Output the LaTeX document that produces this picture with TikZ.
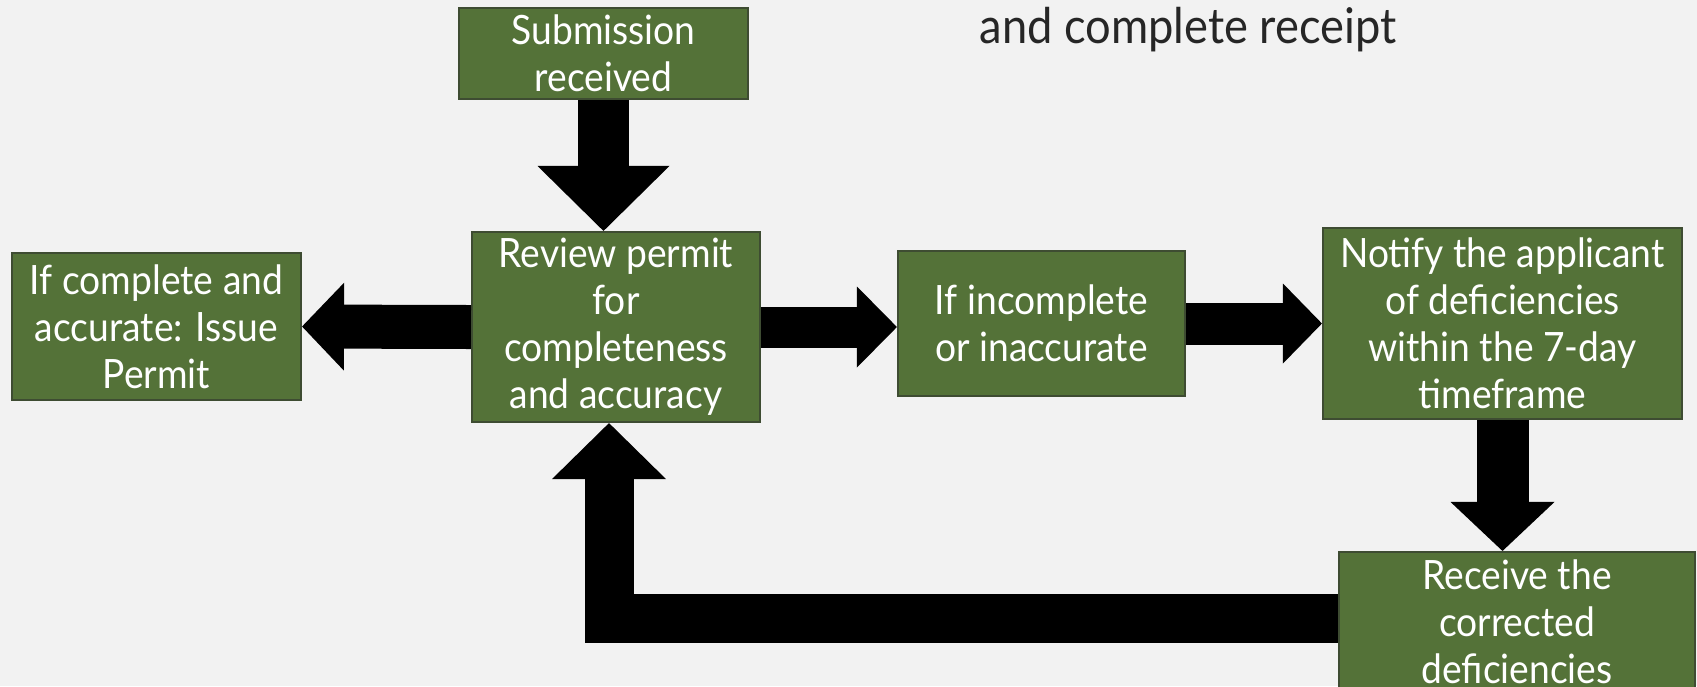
\documentclass[tikz,border=0pt]{standalone}
\usepackage{fontspec}
\setmainfont[FakeStretch=0.92]{Lato}
\usetikzlibrary{arrows.meta,positioning}
\definecolor{boxgreen}{RGB}{84,114,56}
\definecolor{boxline}{RGB}{62,76,50}
\definecolor{bggray}{RGB}{242,242,242}
\definecolor{titlegray}{RGB}{38,38,38}

\begin{document}
\begin{tikzpicture}[
  box/.style={draw=boxline,line width=0.6pt,fill=boxgreen,text=white,align=center,inner sep=0pt,font=\fontsize{11.5}{13.4}\selectfont},
  blk/.style n args={3}{line width=#1,-{Triangle[width=#2,length=#3,line width=0pt]}},
]
  \useasboundingbox (0,0) rectangle (16.97,-6.86);
  \fill[bggray] (0,0) rectangle (16.97,-6.86);
  \clip (0,0) rectangle (16.97,-6.86);

  % title (second line only)
  \node[font=\fontsize{14}{16}\selectfont,text=titlegray,anchor=base] (ttl) at (11.88,-0.43) {and complete receipt};

  % steps
  \node[box,minimum width=2.89cm,minimum height=0.91cm] (sub) at (6.035,-0.535) {Submission\\received};
  \node[box,minimum width=2.88cm,minimum height=1.90cm] (rev) at (6.16,-3.27)   {Review permit\\for\\completeness\\and accuracy};
  \node[box,minimum width=2.89cm,minimum height=1.47cm] (iss) at (1.565,-3.265) {If complete and\\accurate: Issue\\Permit};
  \node[box,minimum width=2.87cm,minimum height=1.45cm] (inc) at (10.415,-3.235) {If incomplete\\or inaccurate};
  \node[box,minimum width=3.59cm,minimum height=1.91cm] (ntf) at (15.025,-3.235) {Notify the applicant\\of deficiencies\\within the 7-day\\timeframe};
  \node[box,minimum width=3.56cm,minimum height=1.40cm] (rec) at (15.17,-6.22)  {Receive the\\corrected\\deficiencies};

  % block arrows
  \draw[blk={0.51cm}{1.32cm}{0.65cm}] (sub.south) -- (sub.south |- rev.north);
  \draw[blk={0.44cm}{0.88cm}{0.42cm}] (rev.west) -- (iss.east);
  \draw[blk={0.41cm}{0.81cm}{0.40cm}] (rev.east) -- (rev.east -| inc.west);
  \draw[blk={0.42cm}{0.80cm}{0.39cm}] (inc.east) -- (ntf.west);
  \draw[blk={0.52cm}{1.04cm}{0.49cm}] (ntf.south) -- (ntf.south |- rec.north);
  \draw[blk={0.49cm}{1.14cm}{0.56cm}] ([yshift=0.035cm]rec.west) -| ([xshift=-0.07cm]rev.south);
\end{tikzpicture}
\end{document}
